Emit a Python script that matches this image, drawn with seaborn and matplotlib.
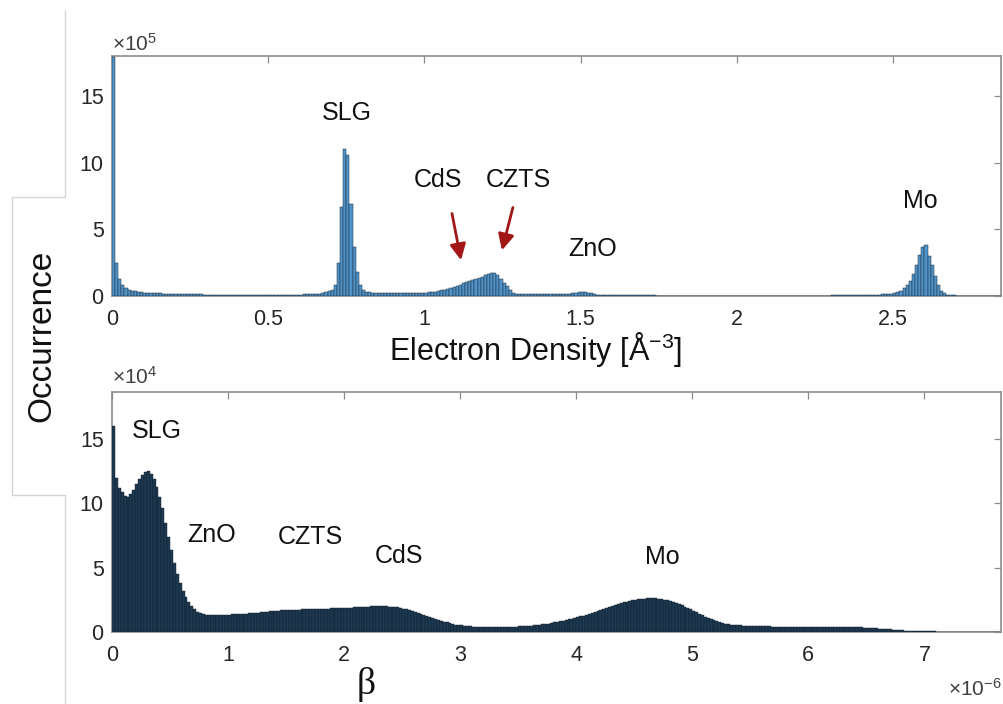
import numpy as np
import matplotlib
matplotlib.use("Agg")
import matplotlib.pyplot as plt
import seaborn as sns
from matplotlib.lines import Line2D

# ---------------- data ----------------
# Electron density histogram: bin width 0.01 Å^-3 starting at 0, counts in units of 1e5
ed_bin_width = 0.01
ed_counts_e5 = (
    [17.9, 2.45, 1.25, 0.85, 0.62, 0.48, 0.40, 0.34, 0.30, 0.27]
    + [0.25, 0.23, 0.22, 0.21, 0.20, 0.19, 0.18, 0.17, 0.16, 0.16]
    + [0.15, 0.15, 0.14, 0.14, 0.13, 0.13, 0.12, 0.12, 0.12, 0.11]
    + [0.11, 0.10, 0.10, 0.10, 0.10, 0.09, 0.09, 0.09, 0.09, 0.09]
    + [0.08, 0.08, 0.08, 0.08, 0.08, 0.08, 0.08, 0.08, 0.08, 0.08]
    + [0.08, 0.08, 0.08, 0.08, 0.09, 0.09, 0.09, 0.10, 0.10, 0.10]
    + [0.11, 0.12, 0.12, 0.13, 0.14, 0.16, 0.18, 0.22, 0.28, 0.36]
    + [0.45, 0.80, 2.45, 6.70, 11.0, 10.6, 6.90, 3.70, 1.80, 0.80]
    + [0.45, 0.33, 0.28, 0.25, 0.24, 0.23, 0.23, 0.22, 0.22, 0.22]
    + [0.22, 0.22, 0.22, 0.22, 0.22, 0.22, 0.23, 0.23, 0.24, 0.24]
    + [0.25, 0.27, 0.30, 0.33, 0.37, 0.42, 0.48, 0.55, 0.62, 0.70]
    + [0.78, 0.86, 0.95, 1.03, 1.10, 1.18, 1.26, 1.34, 1.44, 1.54]
    + [1.64, 1.74, 1.74, 1.60, 1.30, 1.00, 0.72, 0.45, 0.26, 0.18]
    + [0.15, 0.14, 0.13, 0.13, 0.13, 0.12, 0.12, 0.12, 0.12, 0.12]
    + [0.12, 0.12, 0.13, 0.13, 0.14, 0.15, 0.17, 0.20, 0.24, 0.28]
    + [0.30, 0.29, 0.26, 0.20, 0.14, 0.10, 0.08, 0.06, 0.05, 0.05]
    + [0.04, 0.04, 0.04, 0.04, 0.04, 0.04, 0.04, 0.04, 0.04, 0.04]
    + [0.04, 0.04, 0.04, 0.04, 0.03, 0.03, 0.03, 0.03, 0.03, 0.03]
    + [0.03, 0.03, 0.03, 0.03, 0.03, 0.03, 0.03, 0.03, 0.03, 0.03]
    + [0.03, 0.03, 0.03, 0.03, 0.03, 0.03, 0.03, 0.03, 0.03, 0.03]
    + [0.03, 0.03, 0.03, 0.03, 0.03, 0.03, 0.03, 0.03, 0.03, 0.03]
    + [0.03, 0.03, 0.03, 0.03, 0.03, 0.03, 0.03, 0.03, 0.03, 0.03]
    + [0.03, 0.03, 0.03, 0.03, 0.03, 0.03, 0.03, 0.03, 0.03, 0.03]
    + [0.04, 0.04, 0.04, 0.04, 0.05, 0.05, 0.05, 0.06, 0.06, 0.07]
    + [0.07, 0.08, 0.08, 0.09, 0.10, 0.11, 0.12, 0.14, 0.16, 0.18]
    + [0.20, 0.28, 0.40, 0.60, 0.85, 1.15, 1.65, 2.30, 3.10, 3.70]
    + [3.80, 3.00, 2.30, 1.50, 0.80, 0.40, 0.20, 0.10, 0.06, 0.04]
    + [0.03, 0.02, 0.02, 0.02, 0.01, 0.01, 0.01, 0.01, 0.01, 0.01]
    + [0.01, 0.01, 0.01, 0.01, 0.01]
)

# beta histogram: bin width 0.025e-6 starting at 0, counts in units of 1e4
beta_bin_width = 0.025
beta_counts_e4 = (
    [16.0, 12.0, 11.2, 10.9, 10.6, 10.5, 10.7, 11.0, 11.5, 11.9]
    + [12.2, 12.4, 12.5, 12.3, 11.9, 11.3, 10.5, 9.6, 8.5, 7.4]
    + [6.4, 5.4, 4.5, 3.8, 3.15, 2.7, 2.3, 2.0, 1.75, 1.57]
    + [1.45, 1.38, 1.33, 1.31, 1.30, 1.30, 1.31, 1.32, 1.33, 1.34]
    + [1.35, 1.36, 1.37, 1.38, 1.39, 1.41, 1.42, 1.44, 1.46, 1.48]
    + [1.50, 1.53, 1.55, 1.58, 1.60, 1.63, 1.65, 1.67, 1.69, 1.70]
    + [1.71, 1.72, 1.73, 1.74, 1.74, 1.75, 1.75, 1.76, 1.76, 1.77]
    + [1.78, 1.79, 1.80, 1.81, 1.82, 1.83, 1.84, 1.85, 1.86, 1.87]
    + [1.88, 1.89, 1.90, 1.92, 1.93, 1.95, 1.96, 1.97, 1.98, 1.99]
    + [2.00, 2.00, 2.00, 2.00, 1.99, 1.98, 1.96, 1.94, 1.91, 1.87]
    + [1.82, 1.77, 1.71, 1.64, 1.56, 1.48, 1.40, 1.32, 1.24, 1.16]
    + [1.08, 1.00, 0.93, 0.86, 0.80, 0.74, 0.68, 0.63, 0.58, 0.55]
    + [0.52, 0.49, 0.46, 0.44, 0.42, 0.41, 0.40, 0.39, 0.38, 0.37]
    + [0.37, 0.36, 0.36, 0.37, 0.37, 0.38, 0.39, 0.40, 0.41, 0.42]
    + [0.43, 0.44, 0.46, 0.47, 0.49, 0.51, 0.53, 0.56, 0.59, 0.62]
    + [0.66, 0.70, 0.74, 0.78, 0.83, 0.88, 0.93, 0.98, 1.03, 1.09]
    + [1.15, 1.21, 1.28, 1.35, 1.42, 1.49, 1.56, 1.63, 1.70, 1.78]
    + [1.86, 1.94, 2.02, 2.10, 2.17, 2.24, 2.31, 2.37, 2.43, 2.48]
    + [2.52, 2.55, 2.58, 2.60, 2.61, 2.62, 2.62, 2.61, 2.59, 2.56]
    + [2.52, 2.47, 2.41, 2.34, 2.26, 2.17, 2.07, 1.97, 1.86, 1.75]
    + [1.64, 1.53, 1.42, 1.31, 1.20, 1.10, 1.00, 0.91, 0.83, 0.76]
    + [0.70, 0.65, 0.61, 0.58, 0.55, 0.53, 0.51, 0.49, 0.48, 0.47]
    + [0.46, 0.45, 0.45, 0.44, 0.44, 0.43, 0.43, 0.42, 0.42, 0.41]
    + [0.41, 0.40, 0.40, 0.40, 0.39, 0.39, 0.39, 0.38, 0.38, 0.38]
    + [0.37, 0.37, 0.37, 0.37, 0.36, 0.36, 0.36, 0.36, 0.36, 0.36]
    + [0.36, 0.36, 0.36, 0.36, 0.36, 0.36, 0.36, 0.35, 0.35, 0.34]
    + [0.33, 0.32, 0.30, 0.29, 0.27, 0.26, 0.24, 0.22, 0.20, 0.18]
    + [0.16, 0.14, 0.13, 0.11, 0.10, 0.09, 0.08, 0.07, 0.06, 0.05]
    + [0.05, 0.04, 0.04, 0.04, 0.03, 0.03, 0.03, 0.03, 0.03, 0.03]
    + [0.02, 0.02, 0.02, 0.02, 0.02, 0.02, 0.02, 0.02, 0.02, 0.02]
    + [0.01, 0.01, 0.01, 0.01, 0.01, 0.01]
)

ed_xticks = [0, 0.5, 1, 1.5, 2, 2.5]
ed_xticklabels = ["0", "0.5", "1", "1.5", "2", "2.5"]
ed_yticks = [0, 5, 10, 15]
beta_xticks = [0, 1, 2, 3, 4, 5, 6, 7]
beta_yticks = [0, 5, 10, 15]

ed_labels = ["SLG", "CdS", "CZTS", "ZnO", "Mo"]
beta_labels = ["SLG", "ZnO", "CZTS", "CdS", "Mo"]

# ---------------- style ----------------
sns.set_theme(style="white")
plt.rcParams["font.family"] = ["Liberation Sans", "DejaVu Sans"]
plt.rcParams["mathtext.fontset"] = "custom"
plt.rcParams["mathtext.rm"] = "Liberation Sans"
plt.rcParams["mathtext.it"] = "Liberation Sans:italic"
plt.rcParams["mathtext.bf"] = "Liberation Sans:bold"

TXT = "#262626"
FRAME = "#8c8c8c"
W, H = 1004, 704

fig = plt.figure(figsize=(W / 100, H / 100), dpi=100)
fig.patch.set_facecolor("white")


def fx(px):
    return px / W


def fy(py):
    return 1 - py / H


ax1 = fig.add_axes([fx(112), fy(296), fx(1001) - fx(112), fy(56) - fy(296)])
ax2 = fig.add_axes([fx(112), fy(632), fx(1001) - fx(112), fy(392) - fy(632)])

# top histogram
n1 = len(ed_counts_e5)
ed_centers = np.arange(n1) * ed_bin_width + ed_bin_width / 2
sns.histplot(x=ed_centers, weights=ed_counts_e5, bins=n1,
             binrange=(0, n1 * ed_bin_width), ax=ax1,
             color="#4f93c8", edgecolor="#1d2b38", linewidth=0.35, alpha=1.0)

# bottom histogram
n2 = len(beta_counts_e4)
beta_centers = np.arange(n2) * beta_bin_width + beta_bin_width / 2
sns.histplot(x=beta_centers, weights=beta_counts_e4, bins=n2,
             binrange=(0, n2 * beta_bin_width), ax=ax2,
             color="#1e3a52", edgecolor="#0f1c28", linewidth=0.3, alpha=1.0)

for ax in (ax1, ax2):
    for p in ax.patches:
        p.set_zorder(3)

ax1.set_xlim(0, 2.845)
ax1.set_ylim(0, 18)
ax2.set_xlim(0, 7.66)
ax2.set_ylim(0, 18.65)

ax1.set_xticks(ed_xticks)
ax1.set_xticklabels(ed_xticklabels)
ax1.set_yticks(ed_yticks)
ax2.set_xticks(beta_xticks)
ax2.set_yticks(beta_yticks)

for ax in (ax1, ax2):
    ax.set_xlabel("")
    ax.set_ylabel("")
    ax.tick_params(direction="in", top=True, right=True, length=5, width=0.9,
                   color=FRAME, labelsize=15.5, labelcolor=TXT)
    ax.tick_params(axis="x", pad=9.5)
    ax.tick_params(axis="y", pad=6)
    for sp in ax.spines.values():
        sp.set_visible(True)
        sp.set_color(FRAME)
        sp.set_linewidth(1.2)
    ax.set_facecolor("white")

# annotations top
ed_pos = {"SLG": (0.752, 13.73), "CdS": (1.043, 8.73), "CZTS": (1.302, 8.73),
          "ZnO": (1.539, 3.51), "Mo": (2.586, 7.16)}
for lab in ed_labels:
    x, y = ed_pos[lab]
    ax1.text(x, y, lab, ha="center", va="center", fontsize=18, color="#111111")

arrow_kw = dict(arrowstyle="-|>", color="#a31616", lw=2.0, mutation_scale=24,
                shrinkA=0, shrinkB=0)
ax1.annotate("", xy=(1.117, 2.69), xytext=(1.088, 6.19), arrowprops=arrow_kw)
ax1.annotate("", xy=(1.248, 3.43), xytext=(1.283, 6.64), arrowprops=arrow_kw)

beta_pos = {"SLG": (0.39, 15.62), "ZnO": (0.857, 7.54), "CZTS": (1.706, 7.38),
            "CdS": (2.476, 5.91), "Mo": (4.745, 5.83)}
for lab in beta_labels:
    x, y = beta_pos[lab]
    ax2.text(x, y, lab, ha="center", va="center", fontsize=18, color="#111111")

# axis labels and multipliers
fig.text(fx(536), fy(350), "Electron Density [Å$^{-3}$]", ha="center", va="center",
         fontsize=22, color="#111111")
fig.text(fx(42), fy(336), "Occurrence", ha="center", va="center", rotation=90,
         fontsize=24, color="#111111")
fig.text(fx(366), fy(684), "β", ha="center", va="center", fontsize=27,
         family=["Liberation Serif", "DejaVu Serif"], color="#111111")
fig.text(fx(112), fy(44), "×10$^{5}$", ha="left", va="center", fontsize=15, color="#404040")
fig.text(fx(112), fy(377), "×10$^{4}$", ha="left", va="center", fontsize=15, color="#404040")
fig.text(fx(1002), fy(689), "×10$^{-6}$", ha="right", va="center", fontsize=15, color="#404040")

# light grey outline around the y label
fig.add_artist(Line2D([fx(65), fx(65), fx(12), fx(12), fx(65), fx(65)],
                      [fy(10), fy(197), fy(197), fy(495), fy(495), fy(704)],
                      color="#d4d4d4", lw=1.0, transform=fig.transFigure))

fig.savefig("out.png", dpi=100, facecolor="white")
